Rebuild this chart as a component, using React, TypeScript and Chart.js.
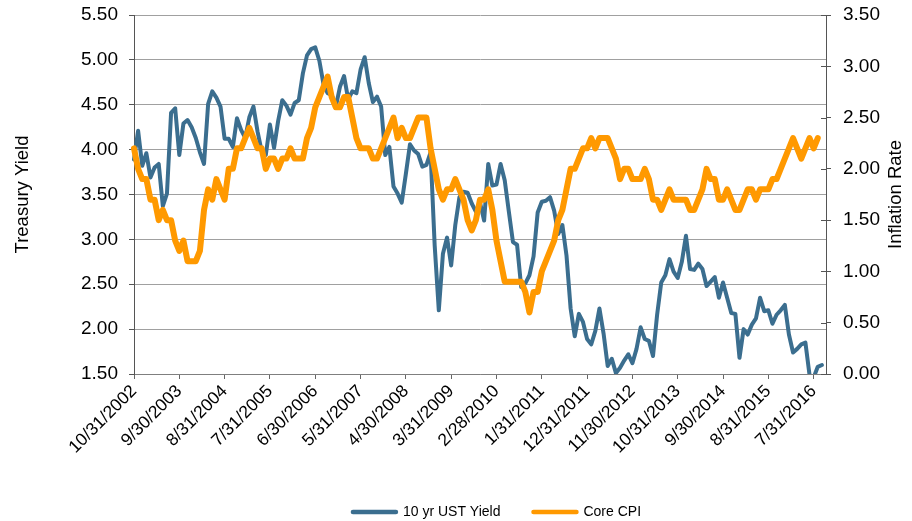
import React, { useEffect, useRef } from 'react';
import { Chart, registerables } from 'chart.js';

Chart.register(...registerables);

// ---- Data (month-end values, Oct 2002 onwards) ----
const START_YEAR = 2002;
const START_MONTH = 10; // October
const MONTH_COUNT = 169; // Oct 2002 .. Oct 2016
const LABEL_STEP = 11;

// 10 yr UST yield (left axis, %)
const ust2002 = [3.89, 4.21, 3.82];
const ust2003 = [3.96, 3.69, 3.8, 3.84, 3.37, 3.51, 4.41, 4.46, 3.94, 4.29, 4.33, 4.25];
const ust2004 = [4.13, 3.97, 3.84, 4.51, 4.65, 4.58, 4.48, 4.12, 4.12, 4.03, 4.35, 4.22];
const ust2005 = [4.13, 4.36, 4.48, 4.2, 3.98, 3.94, 4.28, 4.02, 4.32, 4.55, 4.49, 4.39];
const ust2006 = [4.52, 4.55, 4.85, 5.05, 5.12, 5.14, 4.99, 4.73, 4.63, 4.61, 4.48, 4.7];
const ust2007 = [4.82, 4.56, 4.65, 4.63, 4.89, 5.03, 4.74, 4.53, 4.59, 4.48, 3.94, 4.03];
const ust2008 = [3.59, 3.51, 3.41, 3.73, 4.06, 3.99, 3.95, 3.81, 3.83, 3.97, 2.93, 2.21];
const ust2009 = [2.84, 3.02, 2.71, 3.16, 3.47, 3.53, 3.52, 3.4, 3.31, 3.41, 3.21, 3.84];
const ust2010 = [3.6, 3.61, 3.84, 3.66, 3.31, 2.97, 2.94, 2.47, 2.51, 2.6, 2.81, 3.3];
const ust2011 = [3.42, 3.43, 3.47, 3.32, 3.06, 3.16, 2.82, 2.23, 1.92, 2.17, 2.08, 1.89];
const ust2012 = [1.83, 1.98, 2.23, 1.95, 1.59, 1.67, 1.51, 1.57, 1.65, 1.72, 1.62, 1.78];
const ust2013 = [2.02, 1.89, 1.87, 1.7, 2.16, 2.52, 2.6, 2.78, 2.64, 2.57, 2.75, 3.04];
const ust2014 = [2.67, 2.66, 2.73, 2.67, 2.48, 2.53, 2.58, 2.35, 2.52, 2.35, 2.18, 2.17];
const ust2015 = [1.68, 2.0, 1.94, 2.05, 2.12, 2.35, 2.2, 2.21, 2.06, 2.16, 2.21, 2.27];
const ust2016 = [1.94, 1.74, 1.78, 1.83, 1.85, 1.49, 1.46, 1.58, 1.6];

// Core CPI (right axis, % y/y)
const cpi2002 = [2.2, 2.0, 1.9];
const cpi2003 = [1.9, 1.7, 1.7, 1.5, 1.6, 1.5, 1.5, 1.3, 1.2, 1.3, 1.1, 1.1];
const cpi2004 = [1.1, 1.2, 1.6, 1.8, 1.7, 1.9, 1.8, 1.7, 2.0, 2.0, 2.2, 2.2];
const cpi2005 = [2.3, 2.4, 2.3, 2.2, 2.2, 2.0, 2.1, 2.1, 2.0, 2.1, 2.1, 2.2];
const cpi2006 = [2.1, 2.1, 2.1, 2.3, 2.4, 2.6, 2.7, 2.8, 2.9, 2.7, 2.6, 2.6];
const cpi2007 = [2.7, 2.7, 2.5, 2.3, 2.2, 2.2, 2.2, 2.1, 2.1, 2.2, 2.3, 2.4];
const cpi2008 = [2.5, 2.3, 2.4, 2.3, 2.3, 2.4, 2.5, 2.5, 2.5, 2.2, 2.0, 1.8];
const cpi2009 = [1.7, 1.8, 1.8, 1.9, 1.8, 1.7, 1.5, 1.4, 1.5, 1.7, 1.7, 1.8];
const cpi2010 = [1.6, 1.3, 1.1, 0.9, 0.9, 0.9, 0.9, 0.9, 0.8, 0.6, 0.8, 0.8];
const cpi2011 = [1.0, 1.1, 1.2, 1.3, 1.5, 1.6, 1.8, 2.0, 2.0, 2.1, 2.2, 2.2];
const cpi2012 = [2.3, 2.2, 2.3, 2.3, 2.3, 2.2, 2.1, 1.9, 2.0, 2.0, 1.9, 1.9];
const cpi2013 = [1.9, 2.0, 1.9, 1.7, 1.7, 1.6, 1.7, 1.8, 1.7, 1.7, 1.7, 1.7];
const cpi2014 = [1.6, 1.6, 1.7, 1.8, 2.0, 1.9, 1.9, 1.7, 1.7, 1.8, 1.7, 1.6];
const cpi2015 = [1.6, 1.7, 1.8, 1.8, 1.7, 1.8, 1.8, 1.8, 1.9, 1.9, 2.0, 2.1];
const cpi2016 = [2.2, 2.3, 2.2, 2.1, 2.2, 2.3, 2.2, 2.3];

const ustYield = [
  ...ust2002, ...ust2003, ...ust2004, ...ust2005, ...ust2006, ...ust2007, ...ust2008, ...ust2009,
  ...ust2010, ...ust2011, ...ust2012, ...ust2013, ...ust2014, ...ust2015, ...ust2016,
];
const coreCpi = [
  ...cpi2002, ...cpi2003, ...cpi2004, ...cpi2005, ...cpi2006, ...cpi2007, ...cpi2008, ...cpi2009,
  ...cpi2010, ...cpi2011, ...cpi2012, ...cpi2013, ...cpi2014, ...cpi2015, ...cpi2016,
];

function monthEndLabel(i: number): string {
  const m0 = START_MONTH - 1 + i;
  const y = START_YEAR + Math.floor(m0 / 12);
  const m = m0 % 12;
  const d = new Date(y, m + 1, 0).getDate();
  return `${m + 1}/${d}/${y}`;
}
const categories = Array.from({ length: MONTH_COUNT }, (_, i) => monthEndLabel(i));

const FONT = "'Liberation Sans', Arial, Helvetica, sans-serif";
const BLUE = '#3B6E8F';
const ORANGE = '#FF9900';

const rightTitlePlugin = {
  id: 'rightTitle',
  afterDraw(chart: any) {
    const s = chart.scales.y1;
    const ctx = chart.ctx;
    ctx.save();
    ctx.translate(s.right - 16, (chart.chartArea.top + chart.chartArea.bottom) / 2);
    ctx.rotate(-Math.PI / 2);
    ctx.textAlign = 'center';
    ctx.textBaseline = 'middle';
    ctx.font = `18.5px ${FONT}`;
    ctx.fillStyle = '#000';
    ctx.fillText('Inflation Rate', 0, 0);
    ctx.restore();
  },
};

// inner half of the right axis tick marks (they cross the axis line)
const rightInnerTicksPlugin = {
  id: 'rightInnerTicks',
  beforeDatasetsDraw(chart: any) {
    const s = chart.scales.y1;
    const ctx = chart.ctx;
    ctx.save();
    ctx.strokeStyle = '#555';
    ctx.lineWidth = 1;
    ctx.beginPath();
    for (let i = 0; i < s.ticks.length; i++) {
      const y = Math.round(s.getPixelForTick(i)) + 0.5;
      ctx.moveTo(s.left - 5, y);
      ctx.lineTo(s.left, y);
    }
    ctx.stroke();
    ctx.restore();
  },
};

const legendShiftPlugin = {
  id: 'legendShift',
  afterLayout(chart: any) {
    if (chart.legend) {
      chart.legend.left += 41;
      chart.legend.right += 41;
    }
  },
};

const trimVerticalPadding = (s: any) => {
  s.paddingTop = 4;
  s.paddingBottom = 4;
};

export default function App() {
  const canvasRef = useRef<HTMLCanvasElement | null>(null);

  useEffect(() => {
    const canvas = canvasRef.current;
    if (!canvas) return;
    Chart.defaults.font.family = FONT;
    Chart.defaults.color = '#000';

    const chart = new Chart(canvas, {
      type: 'line',
      data: {
        labels: categories,
        datasets: [
          {
            label: '10 yr UST Yield',
            data: ustYield,
            borderColor: BLUE,
            backgroundColor: BLUE,
            borderWidth: 4,
            pointRadius: 0,
            tension: 0,
            borderJoinStyle: 'round',
            borderCapStyle: 'round',
            yAxisID: 'y',
            order: 1,
          },
          {
            label: 'Core CPI',
            data: coreCpi,
            borderColor: ORANGE,
            backgroundColor: ORANGE,
            borderWidth: 6,
            pointRadius: 0,
            tension: 0,
            borderJoinStyle: 'round',
            borderCapStyle: 'round',
            yAxisID: 'y1',
            order: 0,
          },
        ],
      },
      options: {
        responsive: false,
        animation: false,
        devicePixelRatio: 1,
        layout: { padding: { top: 15, left: 0, right: 0, bottom: -8 } },
        plugins: {
          tooltip: { enabled: false },
          legend: {
            position: 'bottom',
            labels: {
              usePointStyle: true,
              pointStyleWidth: 43,
              padding: 33,
              color: '#000',
              font: { size: 14, family: FONT },
              sort: (a: any, b: any) => a.datasetIndex - b.datasetIndex,
              generateLabels: (c: any) =>
                (Chart.defaults.plugins.legend.labels as any)
                  .generateLabels(c)
                  .map((it: any) => ({ ...it, pointStyle: 'line', lineWidth: 4.5, lineCap: 'round' })),
            },
          },
        },
        scales: {
          x: {
            type: 'category',
            offset: false,
            afterBuildTicks: (s: any) => {
              s.ticks = s.ticks.filter((t: any) => t.value % LABEL_STEP === 0);
            },
            afterFit: (s: any) => {
              s.height = 98;
            },
            ticks: {
              autoSkip: false,
              maxRotation: 45,
              minRotation: 45,
              padding: 2,
              color: '#000',
              font: { size: 17.5, family: FONT },
            },
            grid: { drawOnChartArea: false, drawTicks: true, tickLength: 5, tickColor: '#666', color: '#666' },
            border: { display: true, color: '#7f7f7f', width: 1 },
          },
          y: {
            type: 'linear',
            position: 'left',
            min: 1.5,
            max: 5.5,
            afterFit: (s: any) => {
              s.width = 134;
              trimVerticalPadding(s);
            },
            ticks: {
              stepSize: 0.5,
              padding: 11,
              color: '#000',
              font: { size: 19, family: FONT },
              callback: (v: any) => Number(v).toFixed(2),
            },
            grid: { color: '#a0a0a0', lineWidth: 1, tickLength: 5, tickColor: '#555' },
            border: { display: true, color: '#555', width: 1 },
            title: {
              display: true,
              text: 'Treasury Yield',
              color: '#000',
              font: { size: 18.5, family: FONT },
              padding: { top: 12.3, bottom: 0 },
            },
          },
          y1: {
            type: 'linear',
            position: 'right',
            min: 0,
            max: 3.5,
            afterFit: (s: any) => {
              s.width = 86;
              trimVerticalPadding(s);
            },
            ticks: {
              stepSize: 0.5,
              padding: 12,
              color: '#000',
              font: { size: 19, family: FONT },
              callback: (v: any) => Number(v).toFixed(2),
            },
            grid: { drawOnChartArea: false, tickLength: 5, tickColor: '#555', color: '#555' },
            border: { display: true, color: '#555', width: 1 },
          },
        },
      },
      plugins: [rightTitlePlugin, rightInnerTicksPlugin, legendShiftPlugin],
    });

    return () => chart.destroy();
  }, []);

  return (
    <div style={{ position: 'fixed', left: 0, top: 0, width: 912, height: 521, background: '#fff' }}>
      <canvas ref={canvasRef} width={912} height={521} style={{ width: 912, height: 521, display: 'block' }} />
    </div>
  );
}
